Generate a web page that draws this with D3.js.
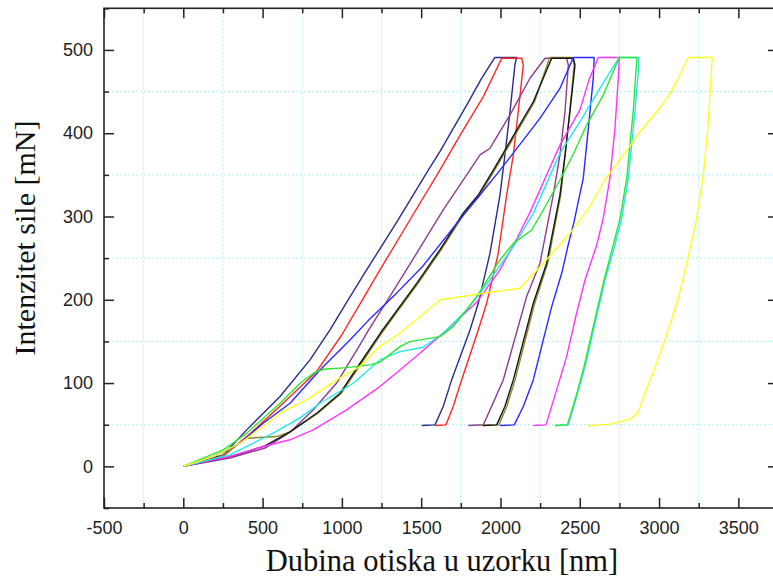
<!DOCTYPE html>
<html>
<head>
<meta charset="utf-8">
<script src="https://cdn.jsdelivr.net/npm/d3@7/dist/d3.min.js"></script>
<style>
  html, body { margin: 0; padding: 0; background: #fff; }
  svg { display: block; }
</style>
</head>
<body>
<svg id="chart" width="773" height="581"></svg>
<script>
// ---------- DATA (depth nm, force mN) ----------
const xMajorTicks = [-500, 0, 500, 1000, 1500, 2000, 2500, 3000, 3500];
const xMinorTicks = [-250, 250, 750, 1250, 1750, 2250, 2750, 3250, 3750];
const yMajorTicks = [0, 100, 200, 300, 400, 500];
const yMinorTicks = [-50, 50, 150, 250, 350, 450, 550];

const navyCurve = [
  [0,0],[252,13.8],[400,43.8],[610,83.8],[799,127.8],[925,163.8],[1030,197],[1140,231],
  [1345,293],[1545,355.8],[1618,377.8],[1787,433.8],[1881,465.8],[1965,491],
  [2102,491],[2091,482],[2060,425.8],[2028,373.8],[1997,325.8],[1934,256],[1860,195.8],
  [1808,163.8],[1692,103.8],[1639,71.8],[1587,49.8],[1503,49]
];
const redCurve = [
  [0,0],[250,12],[432,41],[641,78],[841,114],[1000,158],[1120,197],[1240,235.8],
  [1429,295.8],[1618,355.8],[1744,397],[1892,444],[2008,490],
  [2134,490],[2144,482],[2112,425.8],[2081,373.8],[2039,325.8],[1986,255.8],[1913,195.8],
  [1860,163.8],[1755,103.8],[1702,71.8],[1656,49.8],[1587,49]
];
const purpleCurve = [
  [0,0],[294,10],[515,22],[673,41],[820,68],[967,100],[1114,146],[1166,163],[1303,204],
  [1472,256],[1639,308],[1808,356],[1871,374],[1934,382],[2060,422],[2186,466],[2281,490],
  [2417,490],[2428,482],[2407,426],[2375,374],[2333,326],[2249,244],[2165,204],
  [2018,104],[1944,72],[1892,50],[1797,49]
];
const oliveCurve = [
  [0,0],[232,11.4],[400,33.8],[589,35.8],[673,41.4],[849,63.8],[997,87.8],[1123,123.8],
  [1250,159.8],[1480,219.8],[1626,260],[1773,304],[1868,325.8],[1963,355.8],[2068,389.8],
  [2215,437.8],[2310,491],[2452,491],[2465,482],[2436,425.8],[2408,373.8],[2380,325.8],
  [2298,243.8],[2216,195.8],[2092,103.8],[2040,71.8],[1990,49.8],[1880,49]
];
const blackCurve = [
  [0,0],[313,12.6],[515,24.6],[673,41.4],[841,63.8],[989,87.8],[1115,123.8],[1242,159.8],
  [1472,219.8],[1618,260],[1765,304],[1860,325.8],[1955,355.8],[2060,389.8],[2207,437.8],
  [2323,490],[2459,490],[2470,482],[2438,425.8],[2407,373.8],[2375,325.8],[2291,243.8],
  [2207,195.8],[2081,103.8],[2028,71.8],[1976,49.8],[1892,49]
];
const blueCurve = [
  [0,0],[189,11.8],[357,27.8],[504,51.8],[673,75.8],[862,115.8],[1051,151.8],[1166,175],
  [1345,208],[1513,241],[1724,291.8],[1871,325.8],[1986,353],[2060,371],[2249,417.8],
  [2375,453.8],[2459,491],[2591,491],[2585,465.8],[2554,405.8],[2522,345.8],[2462,292],
  [2427,265.8],[2386,231.8],[2323,191.8],[2270,151.8],[2207,103.8],[2144,71.8],[2087,49.8],
  [1997,49]
];
const magentaCurve = [
  [0,0],[189,7.8],[294,11.8],[504,23.8],[673,31.9],[820,43.8],[1030,67.8],[1240,95.8],
  [1366,115.8],[1492,135.8],[1661,163.8],[1850,197],[1997,236],[2102,273],[2186,305],
  [2249,331.8],[2375,385.8],[2501,428],[2560,465],[2617,491],[2749,491],[2743,465.8],
  [2722,405.8],[2690,345.8],[2648,297.8],[2607,265.8],[2533,223.8],[2480,183.8],[2417,131.8],
  [2354,91.8],[2287,49.8],[2207,49]
];
const cyanCurve = [
  [0,0],[294,13.8],[567,39.8],[736,58.2],[862,75.8],[1072,99.8],[1240,127.8],[1366,137.8],
  [1513,143],[1639,159.8],[1787,187.8],[1934,223.8],[2081,263.8],[2207,303.8],[2291,339.8],
  [2375,376],[2501,413.8],[2627,453.8],[2749,491],[2873,491],[2869,473.8],[2848,425.8],
  [2827,385.8],[2806,345.8],[2764,297.8],[2722,265.8],[2659,223.8],[2596,171.8],[2533,119.8],
  [2480,83.8],[2427,49.8],[2344,49]
];
const greenCurve = [
  [0,0],[252,19.8],[400,39.8],[610,75.8],[736,99.8],[820,111.8],[883,116.6],[1030,118.6],
  [1177,121.8],[1240,125],[1366,143.8],[1429,149.8],[1618,155.8],[1702,167.8],[1850,203.8],
  [1997,247.8],[2081,267.8],[2197,283.8],[2270,307.8],[2375,343.8],[2460,375],[2543,409.8],
  [2648,445.8],[2749,491],[2862,491],[2854,473.8],[2837,425.8],[2816,385.8],[2796,345.8],
  [2754,297.8],[2711,265.8],[2653,223.8],[2590,171.8],[2527,119.8],[2476,83.8],[2422,49.8],
  [2344,49]
];
const yellowCurve = [
  [0,0],[189,11.8],[357,27.8],[504,47.8],[610,63.8],[778,79.8],[967,103.8],[1114,119.8],
  [1240,143.8],[1366,159.8],[1618,199.8],[1892,207.8],[2123,213.8],[2270,243.8],[2438,279.8],
  [2564,311.8],[2659,343.8],[2774,373.8],[2880,401.8],[2985,425.8],[3069,447],[3121,466],
  [3184,491],[3335,491],[3327,463.8],[3308,406.2],[3277,346.2],[3233,293.4],[3182,250.2],
  [3119,199.8],[3037,151.8],[2962,112.2],[2911,88.2],[2867,64.2],[2823,57],[2703,51],
  [2545,48.6]
];

const seriesData = [navyCurve, redCurve, purpleCurve, oliveCurve, blackCurve, blueCurve,
                    magentaCurve, cyanCurve, greenCurve, yellowCurve];
const seriesColors = ["#2b2b88", "#ff2626", "#8e3c8e", "#8c8a2a", "#161616", "#2a2aff",
                      "#ff33ff", "#22e6f2", "#2ee62e", "#ffff1e"];

const xTitle = "Dubina otiska u uzorku [nm]";
const yTitle = "Intenzitet sile [mN]";

// ---------- DRAW ----------
const svg = d3.select("#chart");
const pL = 104, pR = 778, pT = 8.3, pB = 508;

const x = d3.scaleLinear().domain([-500, 3750]).range([pL, pR]);
const y = d3.scaleLinear().domain([-50, 550]).range([pB, pT]);

// grid (light cyan dotted at minor positions)
const grid = svg.append("g");
grid.selectAll("line.vg").data(xMinorTicks).enter().append("line")
  .attr("x1", d => x(d)).attr("x2", d => x(d)).attr("y1", pT).attr("y2", pB)
  .attr("stroke", "#a8f0f8").attr("stroke-width", 1).attr("stroke-dasharray", "2,2");
grid.selectAll("line.hg").data(yMinorTicks.filter(v => v > -50 && v < 550)).enter().append("line")
  .attr("x1", pL).attr("x2", pR).attr("y1", d => y(d)).attr("y2", d => y(d))
  .attr("stroke", "#a8f0f8").attr("stroke-width", 1).attr("stroke-dasharray", "2,2");

// curves
const line = d3.line().x(d => x(d[0])).y(d => y(d[1])).curve(d3.curveLinear);
svg.append("g").selectAll("path").data(seriesData).enter().append("path")
  .attr("d", line)
  .attr("fill", "none")
  .attr("stroke", (d, i) => seriesColors[i])
  .attr("stroke-width", 1.4)
  .attr("stroke-linejoin", "round");

// axes
const fmt = d => String(d);
function styleAxis(g) {
  g.select(".domain").remove();
  g.selectAll(".tick line").attr("stroke", "#222").attr("stroke-width", 1.5);
  g.selectAll(".tick text").attr("font-family", "'Liberation Sans', Arial, sans-serif")
    .attr("font-size", 18).attr("fill", "#222");
}
svg.append("g").attr("transform", `translate(0,${pB})`)
  .call(d3.axisBottom(x).tickValues(xMajorTicks).tickSize(-10).tickPadding(13).tickFormat(fmt))
  .call(styleAxis);
svg.append("g").attr("transform", `translate(0,${pB})`)
  .call(d3.axisBottom(x).tickValues(xMinorTicks).tickSize(-5).tickFormat(""))
  .call(styleAxis);
svg.append("g").attr("transform", `translate(0,${pT})`)
  .call(d3.axisTop(x).tickValues(xMajorTicks).tickSize(-10).tickFormat(""))
  .call(styleAxis);
svg.append("g").attr("transform", `translate(0,${pT})`)
  .call(d3.axisTop(x).tickValues(xMinorTicks).tickSize(-5).tickFormat(""))
  .call(styleAxis);
svg.append("g").attr("transform", `translate(${pL},0)`)
  .call(d3.axisLeft(y).tickValues(yMajorTicks).tickSize(-10).tickPadding(11).tickFormat(fmt))
  .call(styleAxis);
svg.append("g").attr("transform", `translate(${pL},0)`)
  .call(d3.axisLeft(y).tickValues(yMinorTicks).tickSize(-5).tickFormat(""))
  .call(styleAxis);
svg.append("g").attr("transform", `translate(${pR},0)`)
  .call(d3.axisRight(y).tickValues(yMajorTicks).tickSize(-10).tickFormat(""))
  .call(styleAxis);
svg.append("g").attr("transform", `translate(${pR},0)`)
  .call(d3.axisRight(y).tickValues(yMinorTicks).tickSize(-5).tickFormat(""))
  .call(styleAxis);

// frame
svg.append("rect").attr("x", pL).attr("y", pT)
  .attr("width", pR - pL).attr("height", pB - pT)
  .attr("fill", "none").attr("stroke", "#222").attr("stroke-width", 1.6);

// titles
svg.append("text").attr("x", 442).attr("y", 570.5).attr("text-anchor", "middle")
  .attr("font-family", "'Liberation Serif', 'Times New Roman', serif").attr("font-size", 30.5)
  .attr("fill", "#111").text(xTitle);
svg.append("text").attr("transform", "translate(35,238) rotate(-90)").attr("text-anchor", "middle")
  .attr("font-family", "'Liberation Serif', 'Times New Roman', serif").attr("font-size", 30)
  .attr("fill", "#111").text(yTitle);
</script>
</body>
</html>
